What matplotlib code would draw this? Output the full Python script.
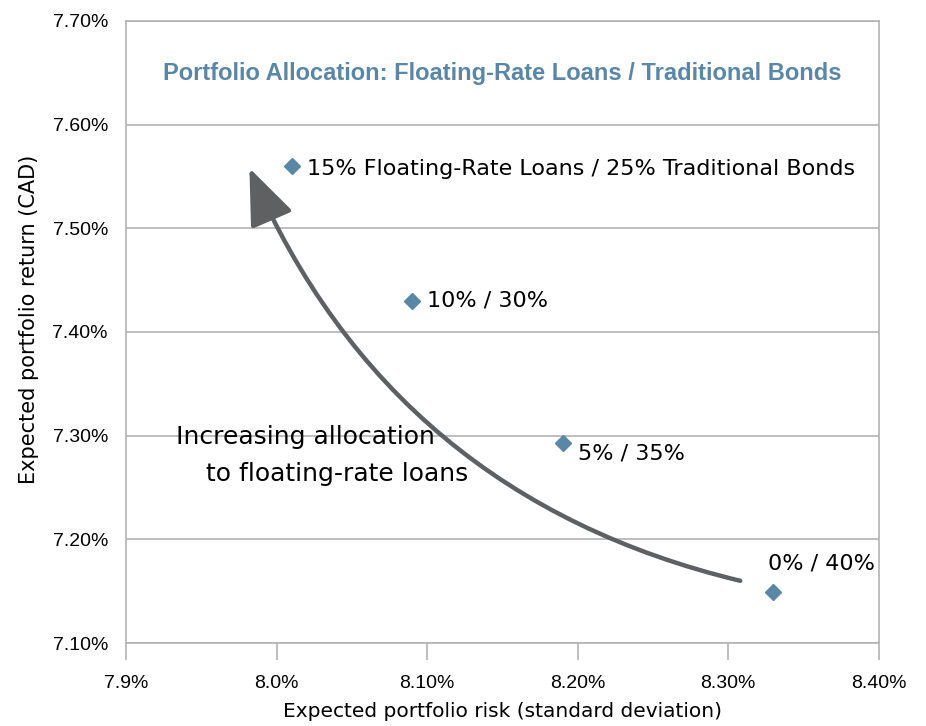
import matplotlib.pyplot as plt
from matplotlib.patches import FancyArrowPatch

plt.rcParams['font.family'] = ['DejaVu Sans']

# data
risk = [8.01, 8.09, 8.19, 8.33]
ret = [7.56, 7.43, 7.293, 7.149]
labels = ['15% Floating-Rate Loans / 25% Traditional Bonds', '10% / 30%', '5% / 35%', '0% / 40%']
label_offsets = [(11, -2), (11, 0), (11, -8), (-4, 21)]

x_ticks = [7.9, 8.0, 8.1, 8.2, 8.3, 8.4]
x_ticklabels = ['7.9%', '8.0%', '8.10%', '8.20%', '8.30%', '8.40%']
y_ticks = [7.1, 7.2, 7.3, 7.4, 7.5, 7.6, 7.7]
y_ticklabels = ['7.10%', '7.20%', '7.30%', '7.40%', '7.50%', '7.60%', '7.70%']

arrow_start = (8.308, 7.160)
arrow_end = (7.982, 7.558)

grid_c = '#b3b3b3'
blue = '#5b87a6'
arrow_c = '#5f6062'
tick_font = ['Liberation Sans', 'DejaVu Sans']

fig = plt.figure(figsize=(9.26, 7.26), dpi=100)
ax = fig.add_axes([0.136, 0.1143, 0.813, 0.857])

ax.set_xlim(7.9, 8.4)
ax.set_ylim(7.1, 7.7)
ax.set_xticks(x_ticks)
ax.set_xticklabels(x_ticklabels, fontsize=14, family=tick_font)
ax.set_yticks(y_ticks)
ax.set_yticklabels(y_ticklabels, fontsize=14, family=tick_font)
ax.tick_params(axis='x', direction='out', length=12, width=1.2, color=grid_c, pad=11)
ax.tick_params(axis='y', length=0, pad=13)

ax.grid(axis='y', color=grid_c, linewidth=1.2)
ax.set_axisbelow(True)
for s in ax.spines.values():
    s.set_color(grid_c)
    s.set_linewidth(1.2)

ax.plot(risk, ret, 'D', color=blue, markersize=8, zorder=5)
for x, y, lab, off in zip(risk, ret, labels, label_offsets):
    ax.annotate(lab, (x, y), xytext=off, textcoords='offset points',
                fontsize=16, va='center', ha='left', color='black')

arrow = FancyArrowPatch(arrow_start, arrow_end, connectionstyle='arc3,rad=-0.25',
                        arrowstyle='-|>,head_length=35,head_width=14',
                        shrinkA=0, shrinkB=0,
                        color=arrow_c, linewidth=3.2, mutation_scale=1, zorder=4)
ax.add_patch(arrow)

ax.text(0.067, 0.331, 'Increasing allocation', transform=ax.transAxes, fontsize=18, va='center')
ax.text(0.106, 0.271, 'to floating-rate loans', transform=ax.transAxes, fontsize=18, va='center')

ax.text(0.5, 0.915, 'Portfolio Allocation: Floating-Rate Loans / Traditional Bonds',
        transform=ax.transAxes, fontsize=17, fontweight='bold', color=blue,
        ha='center', va='center', family=tick_font)

ax.set_xlabel('Expected portfolio risk (standard deviation)', fontsize=14.5)
ax.set_ylabel('Expected portfolio return (CAD)', fontsize=15)
ax.xaxis.set_label_coords(0.5, -0.094)
ax.yaxis.set_label_coords(-0.115, 0.52)

fig.savefig('out.png', dpi=100, facecolor='white')
